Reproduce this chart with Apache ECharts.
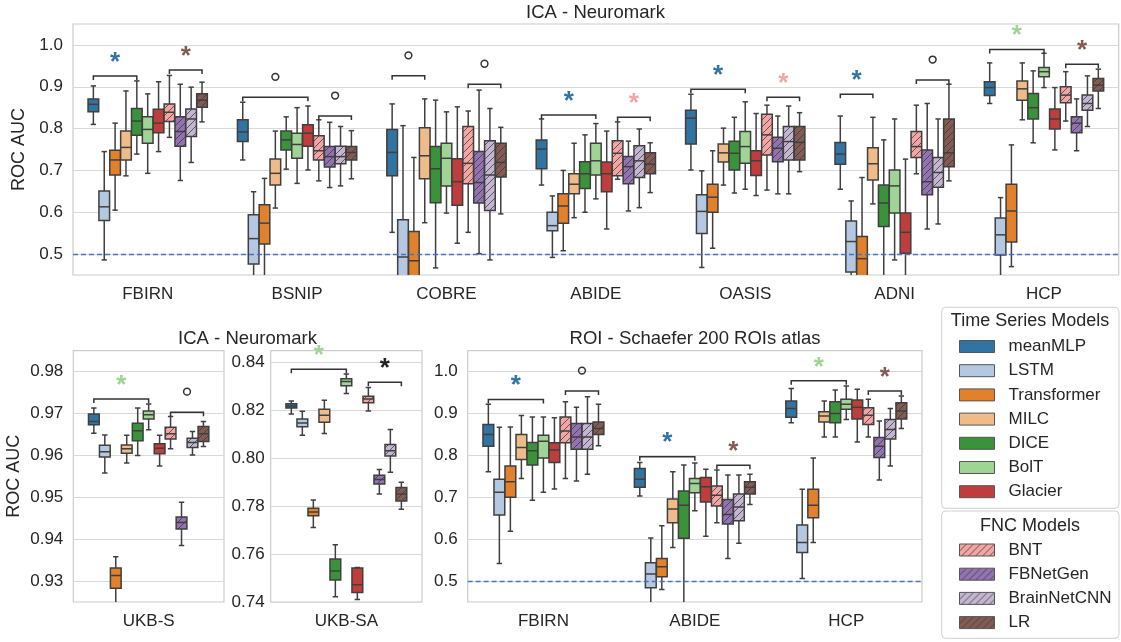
<!DOCTYPE html>
<html>
<head>
<meta charset="utf-8">
<title>ROC AUC - ICA / ROI</title>
<script src="https://cdn.jsdelivr.net/npm/echarts@6/dist/echarts.min.js"></script>
<style>
html, body { margin: 0; padding: 0; background: #fff; }
#container { width: 1121px; height: 642px; }
</style>
</head>
<body>
<div id="container"></div>
<script>
//数据集与模型
var icaSets = ['FBIRN', 'BSNIP', 'COBRE', 'ABIDE', 'OASIS', 'ADNI', 'HCP'];
var ukbSSets = ['UKB-S'];
var ukbSASets = ['UKB-SA'];
var roiSets = ['FBIRN', 'ABIDE', 'HCP'];
var tsModels = ['meanMLP', 'LSTM', 'Transformer', 'MILC', 'DICE', 'BolT', 'Glacier'];
var fncModels = ['BNT', 'FBNetGen', 'BrainNetCNN', 'LR'];
var modelColors = ['#3274a1', '#b5c8e1', '#e1812c', '#eebb89', '#3a923a', '#9fd495', '#c03d3e',
                   '#f2a5a3', '#9372b2', '#c4b5d0', '#845b53'];

//每一行: [下须, Q1, 中位数, Q3, 上须]，顺序同 tsModels + fncModels
var icaFBIRN = [
    [0.810, 0.840, 0.858, 0.871, 0.902], [0.486, 0.580, 0.613, 0.651, 0.745],
    [0.605, 0.689, 0.725, 0.748, 0.813], [0.687, 0.725, 0.755, 0.794, 0.890],
    [0.739, 0.784, 0.818, 0.848, 0.914], [0.693, 0.765, 0.798, 0.828, 0.883],
    [0.745, 0.790, 0.813, 0.846, 0.912], [0.779, 0.817, 0.839, 0.859, 0.927],
    [0.676, 0.758, 0.793, 0.828, 0.906], [0.719, 0.781, 0.823, 0.847, 0.899],
    [0.816, 0.851, 0.868, 0.883, 0.911]
];
var icaBSNIP = [
    [0.725, 0.769, 0.792, 0.821, 0.863], [0.400, 0.476, 0.537, 0.594, 0.649],
    [0.420, 0.524, 0.574, 0.618, 0.681], [0.610, 0.665, 0.693, 0.727, 0.794],
    [0.703, 0.749, 0.773, 0.794, 0.828], [0.669, 0.729, 0.762, 0.789, 0.850],
    [0.701, 0.758, 0.789, 0.809, 0.854], [0.675, 0.725, 0.747, 0.783, 0.821],
    [0.659, 0.708, 0.733, 0.757, 0.815], [0.663, 0.716, 0.733, 0.758, 0.805],
    [0.680, 0.725, 0.743, 0.757, 0.795]
];
var icaCOBRE = [
    [0.552, 0.687, 0.743, 0.798, 0.859], [0.330, 0.420, 0.493, 0.582, 0.807],
    [0.350, 0.430, 0.484, 0.554, 0.731], [0.575, 0.680, 0.735, 0.802, 0.871],
    [0.467, 0.623, 0.704, 0.757, 0.868], [0.598, 0.663, 0.729, 0.765, 0.840],
    [0.526, 0.617, 0.673, 0.728, 0.852], [0.552, 0.668, 0.717, 0.805, 0.842],
    [0.501, 0.622, 0.671, 0.745, 0.892], [0.486, 0.604, 0.689, 0.771, 0.848],
    [0.596, 0.684, 0.719, 0.765, 0.803]
];
var icaABIDE = [
    [0.665, 0.704, 0.751, 0.773, 0.823], [0.492, 0.556, 0.568, 0.600, 0.639],
    [0.508, 0.574, 0.615, 0.644, 0.700], [0.587, 0.644, 0.667, 0.692, 0.765],
    [0.600, 0.657, 0.692, 0.721, 0.785], [0.632, 0.689, 0.723, 0.765, 0.812],
    [0.560, 0.649, 0.692, 0.720, 0.794], [0.679, 0.687, 0.741, 0.771, 0.816],
    [0.603, 0.668, 0.709, 0.733, 0.770], [0.611, 0.683, 0.723, 0.759, 0.799],
    [0.647, 0.692, 0.715, 0.742, 0.766]
];
var icaOASIS = [
    [0.701, 0.763, 0.825, 0.844, 0.882], [0.468, 0.549, 0.602, 0.642, 0.699],
    [0.514, 0.600, 0.636, 0.667, 0.747], [0.665, 0.720, 0.742, 0.763, 0.801],
    [0.646, 0.701, 0.741, 0.770, 0.827], [0.655, 0.717, 0.757, 0.793, 0.864],
    [0.640, 0.688, 0.723, 0.747, 0.836], [0.653, 0.737, 0.785, 0.834, 0.856],
    [0.644, 0.721, 0.753, 0.779, 0.830], [0.644, 0.725, 0.769, 0.805, 0.854],
    [0.697, 0.725, 0.767, 0.805, 0.838]
];
var icaADNI = [
    [0.655, 0.715, 0.739, 0.767, 0.830], [0.400, 0.457, 0.530, 0.579, 0.627],
    [0.380, 0.440, 0.489, 0.542, 0.683], [0.620, 0.677, 0.716, 0.754, 0.827],
    [0.420, 0.566, 0.622, 0.665, 0.773], [0.486, 0.598, 0.663, 0.701, 0.823],
    [0.430, 0.502, 0.552, 0.598, 0.727], [0.692, 0.731, 0.757, 0.793, 0.856],
    [0.560, 0.642, 0.673, 0.749, 0.860], [0.572, 0.660, 0.695, 0.731, 0.823],
    [0.675, 0.709, 0.742, 0.823, 0.906]
];
var icaHCP = [
    [0.860, 0.879, 0.898, 0.912, 0.957], [0.440, 0.498, 0.546, 0.586, 0.635],
    [0.470, 0.529, 0.603, 0.667, 0.761], [0.821, 0.868, 0.895, 0.914, 0.957],
    [0.766, 0.823, 0.850, 0.884, 0.938], [0.898, 0.924, 0.936, 0.946, 0.980],
    [0.749, 0.799, 0.823, 0.847, 0.898], [0.818, 0.862, 0.880, 0.900, 0.936],
    [0.747, 0.790, 0.813, 0.828, 0.871], [0.805, 0.844, 0.860, 0.880, 0.926],
    [0.848, 0.890, 0.904, 0.920, 0.942]
];
var ukbS = [
    [0.9653, 0.9673, 0.9681, 0.9699, 0.9713], [0.9558, 0.9596, 0.9609, 0.9624, 0.9649],
    [0.9235, 0.9283, 0.9313, 0.9331, 0.9358], [0.9582, 0.9605, 0.9616, 0.9625, 0.9648],
    [0.9600, 0.9635, 0.9659, 0.9677, 0.9713], [0.9661, 0.9687, 0.9697, 0.9706, 0.9723],
    [0.9575, 0.9604, 0.9617, 0.9628, 0.9648], [0.9616, 0.9639, 0.9652, 0.9667, 0.9693],
    [0.9385, 0.9424, 0.9440, 0.9453, 0.9488], [0.9601, 0.9619, 0.9631, 0.9641, 0.9657],
    [0.9621, 0.9633, 0.9652, 0.9669, 0.9681]
];
var ukbSA = [
    [0.8186, 0.8211, 0.8219, 0.8228, 0.8240], [0.8097, 0.8132, 0.8148, 0.8165, 0.8197],
    [0.7711, 0.7760, 0.7776, 0.7792, 0.7826], [0.8104, 0.8151, 0.8180, 0.8205, 0.8243],
    [0.7422, 0.7492, 0.7530, 0.7580, 0.7639], [0.8271, 0.8304, 0.8321, 0.8333, 0.8353],
    [0.7410, 0.7440, 0.7472, 0.7542, 0.7544], [0.8198, 0.8233, 0.8248, 0.8260, 0.8296],
    [0.7851, 0.7893, 0.7912, 0.7930, 0.7954], [0.7942, 0.8010, 0.8032, 0.8058, 0.8121],
    [0.7788, 0.7822, 0.7851, 0.7878, 0.7900]
];
var roiFBIRN = [
    [0.761, 0.822, 0.850, 0.874, 0.922], [0.542, 0.658, 0.712, 0.743, 0.867],
    [0.619, 0.700, 0.737, 0.775, 0.868], [0.745, 0.790, 0.819, 0.850, 0.895],
    [0.693, 0.777, 0.811, 0.831, 0.892], [0.712, 0.794, 0.834, 0.848, 0.892],
    [0.720, 0.783, 0.813, 0.830, 0.890], [0.745, 0.830, 0.858, 0.892, 0.928],
    [0.739, 0.815, 0.844, 0.876, 0.915], [0.755, 0.815, 0.844, 0.876, 0.940],
    [0.823, 0.850, 0.864, 0.880, 0.922]
];
var roiABIDE = [
    [0.703, 0.724, 0.743, 0.769, 0.783], [0.440, 0.484, 0.517, 0.544, 0.603],
    [0.480, 0.510, 0.534, 0.554, 0.632], [0.580, 0.639, 0.672, 0.696, 0.761],
    [0.440, 0.602, 0.681, 0.715, 0.777], [0.668, 0.711, 0.733, 0.745, 0.782],
    [0.607, 0.689, 0.725, 0.747, 0.767], [0.639, 0.679, 0.705, 0.727, 0.765],
    [0.554, 0.636, 0.659, 0.695, 0.753], [0.590, 0.644, 0.677, 0.708, 0.753],
    [0.683, 0.708, 0.724, 0.737, 0.755]
];
var roiHCP = [
    [0.878, 0.891, 0.912, 0.930, 0.960], [0.506, 0.568, 0.592, 0.634, 0.719],
    [0.592, 0.651, 0.681, 0.719, 0.794], [0.844, 0.880, 0.894, 0.904, 0.930],
    [0.844, 0.878, 0.900, 0.928, 0.956], [0.886, 0.910, 0.922, 0.934, 0.966],
    [0.832, 0.887, 0.915, 0.932, 0.958], [0.844, 0.874, 0.896, 0.914, 0.934],
    [0.741, 0.795, 0.822, 0.843, 0.882], [0.775, 0.839, 0.862, 0.886, 0.912],
    [0.864, 0.887, 0.906, 0.926, 0.942]
];

//显著性括号: [数据集序号, 起始模型, 结束模型, 高度, 标记, 星号颜色(模型序号, -1为黑色)]
var icaBrackets = [
    [0, 0, 4, 0.9255, '*', 0], [0, 7, 10, 0.940, '*', 10],
    [1, 0, 6, 0.8747, 'o'], [1, 7, 10, 0.830, 'o'],
    [2, 0, 3, 0.926, 'o'], [2, 7, 10, 0.906, 'o'],
    [3, 0, 5, 0.8325, '*', 0], [3, 7, 10, 0.827, '*', 7],
    [4, 0, 5, 0.8938, '*', 0], [4, 7, 10, 0.8747, '*', 7],
    [5, 0, 3, 0.882, '*', 0], [5, 7, 10, 0.916, 'o'],
    [6, 0, 5, 0.989, '*', 5], [6, 7, 10, 0.9535, '*', 10]
];
var ukbSBrackets = [[0, 0, 5, 0.97344, '*', 5], [0, 7, 10, 0.97033, 'o']];
var ukbSABrackets = [[0, 0, 5, 0.8372, '*', 5], [0, 7, 10, 0.8318, '*', -1]];
var roiBrackets = [
    [0, 0, 5, 0.9337, '*', 0], [0, 7, 10, 0.9535, 'o'],
    [1, 0, 5, 0.7967, '*', 0], [1, 7, 10, 0.7768, '*', 10],
    [2, 0, 5, 0.978, '*', 5], [2, 7, 10, 0.954, '*', 10]
];

var aucTicks = [0.5, 0.6, 0.7, 0.8, 0.9, 1.0];
var ukbSTicks = [0.93, 0.94, 0.95, 0.96, 0.97, 0.98];
var ukbSATicks = [0.74, 0.76, 0.78, 0.80, 0.82, 0.84];

var models = tsModels.concat(fncModels);
var fontFamily = '"Liberation Sans", Arial, sans-serif';
var textColor = '#262626';
var lineColor = '#3f3f3f';

//斜线填充(FNC 模型)
function makeHatch(color) {
    var s = 7;
    var c = document.createElement('canvas');
    c.width = s;
    c.height = s;
    var ctx = c.getContext('2d');
    ctx.fillStyle = color;
    ctx.fillRect(0, 0, s, s);
    ctx.strokeStyle = 'rgba(55,55,55,0.75)';
    ctx.lineWidth = 1;
    ctx.beginPath();
    ctx.moveTo(-1, 1); ctx.lineTo(1, -1);
    ctx.moveTo(0, s); ctx.lineTo(s, 0);
    ctx.moveTo(s - 1, s + 1); ctx.lineTo(s + 1, s - 1);
    ctx.stroke();
    return { image: c, repeat: 'repeat' };
}
var boxFills = models.map(function (name, m) {
    return m >= tsModels.length ? makeHatch(modelColors[m]) : modelColors[m];
});

//画一个箱子
function boxItem(m) {
    return function (params, api) {
        var cat = api.value(0);
        var band = api.size([1, 0])[0];
        var slot = band * 0.8 / models.length;
        var x = api.coord([cat, 0])[0] + (m - (models.length - 1) / 2) * slot;
        var w = slot * 0.98;
        var yLow = api.coord([cat, api.value(1)])[1];
        var yQ1 = api.coord([cat, api.value(2)])[1];
        var yMed = api.coord([cat, api.value(3)])[1];
        var yQ3 = api.coord([cat, api.value(4)])[1];
        var yHigh = api.coord([cat, api.value(5)])[1];
        var line = { stroke: lineColor, lineWidth: 1.5 };
        return {
            type: 'group',
            children: [
                { type: 'line', shape: { x1: x, y1: yQ1, x2: x, y2: yLow }, style: line },
                { type: 'line', shape: { x1: x, y1: yQ3, x2: x, y2: yHigh }, style: line },
                { type: 'line', shape: { x1: x - w / 4, y1: yLow, x2: x + w / 4, y2: yLow }, style: line },
                { type: 'line', shape: { x1: x - w / 4, y1: yHigh, x2: x + w / 4, y2: yHigh }, style: line },
                { type: 'rect', shape: { x: x - w / 2, y: yQ3, width: w, height: yQ1 - yQ3 },
                  style: { fill: boxFills[m], stroke: lineColor, lineWidth: 1.5 } },
                { type: 'line', shape: { x1: x - w / 2, y1: yMed, x2: x + w / 2, y2: yMed }, style: line }
            ]
        };
    };
}

//画显著性括号和星号
function bracketItem(list) {
    return function (params, api) {
        var b = list[params.dataIndex];
        var band = api.size([1, 0])[0];
        var slot = band * 0.8 / models.length;
        var c = api.coord([b[0], b[3]]);
        var mid = (models.length - 1) / 2;
        var x1 = c[0] + (b[1] - mid) * slot;
        var x2 = c[0] + (b[2] - mid) * slot;
        var y = c[1];
        var mx = (x1 + x2) / 2;
        var mark;
        if (b[4] === 'o') {
            mark = { type: 'circle', shape: { cx: mx, cy: y - 20.5, r: 3.4 },
                     style: { fill: 'none', stroke: '#333', lineWidth: 1.5 } };
        } else {
            mark = { type: 'text', x: mx, y: y - 13.5,
                     style: { text: '*', fill: b[5] < 0 ? '#222' : modelColors[b[5]],
                              font: 'bold 26px ' + fontFamily, align: 'center', verticalAlign: 'middle' } };
        }
        return {
            type: 'group',
            children: [
                { type: 'polyline', shape: { points: [[x1, y + 4], [x1, y], [x2, y], [x2, y + 4]] },
                  style: { fill: 'none', stroke: '#333', lineWidth: 1.5 } },
                mark
            ]
        };
    };
}

var panels = [
    { cats: icaSets, sets: [icaFBIRN, icaBSNIP, icaCOBRE, icaABIDE, icaOASIS, icaADNI, icaHCP],
      brackets: icaBrackets, ticks: aucTicks, min: 0.45, max: 1.05, digits: 1, chance: true,
      grid: { left: 73, top: 24, width: 1045.7, height: 251 }, yName: 'ROC AUC', nameGap: 40, labelMargin: 10 },
    { cats: ukbSSets, sets: [ukbS], brackets: ukbSBrackets, ticks: ukbSTicks, min: 0.925, max: 0.985, digits: 2,
      grid: { left: 73.3, top: 350.7, width: 150.7, height: 251.3 }, yName: 'ROC AUC', nameGap: 50, labelMargin: 10 },
    { cats: ukbSASets, sets: [ukbSA], brackets: ukbSABrackets, ticks: ukbSATicks, min: 0.74, max: 0.845, digits: 2,
      grid: { left: 270.7, top: 350.7, width: 151.3, height: 251.3 }, yName: '', nameGap: 0, labelMargin: 6 },
    { cats: roiSets, sets: [roiFBIRN, roiABIDE, roiHCP], brackets: roiBrackets, ticks: aucTicks,
      min: 0.45, max: 1.05, digits: 1, chance: true,
      grid: { left: 467.7, top: 350.7, width: 454.3, height: 251.3 }, yName: '', nameGap: 0, labelMargin: 10 }
];

var grids = [], xAxes = [], yAxes = [], series = [];
panels.forEach(function (p, g) {
    grids.push(Object.assign({ show: true, borderColor: '#cccccc', borderWidth: 1.2,
                               backgroundColor: '#fff', outerBoundsMode: 'none' }, p.grid));
    xAxes.push({
        type: 'category', gridIndex: g, data: p.cats,
        axisLine: { show: false }, axisTick: { show: false }, splitLine: { show: false },
        axisLabel: { margin: 11, fontSize: 17, color: textColor, fontFamily: fontFamily }
    });
    yAxes.push({
        type: 'value', gridIndex: g, min: p.min, max: p.max,
        name: p.yName, nameLocation: 'middle', nameGap: p.nameGap,
        nameTextStyle: { fontSize: 18, color: textColor, fontFamily: fontFamily },
        axisLine: { show: false },
        axisTick: { show: false, customValues: p.ticks },
        axisLabel: {
            customValues: p.ticks, margin: p.labelMargin, fontSize: 17, color: textColor, fontFamily: fontFamily,
            formatter: (function (d) { return function (v) { return Number(v).toFixed(d); }; })(p.digits)
        },
        splitLine: { show: true, lineStyle: { color: '#d9d9d9', width: 1 } }
    });
    models.forEach(function (name, m) {
        var s = {
            type: 'custom', name: name, xAxisIndex: g, yAxisIndex: g, clip: true,
            itemStyle: { color: modelColors[m] },
            encode: { x: 0, y: [1, 2, 3, 4, 5] },
            renderItem: boxItem(m),
            data: p.sets.map(function (rows, ci) { return [ci].concat(rows[m]); })
        };
        //0.5 的随机水平线
        if (m === 0 && p.chance) {
            s.markLine = {
                silent: true, symbol: ['none', 'none'], label: { show: false },
                lineStyle: { type: [5, 3], color: '#4a72c4', width: 1.4 },
                data: [{ yAxis: 0.5 }]
            };
        }
        series.push(s);
    });
    series.push({
        type: 'custom', name: 'significance', xAxisIndex: g, yAxisIndex: g, silent: true, z: 5,
        renderItem: bracketItem(p.brackets),
        data: p.brackets.map(function (b) { return [b[0], b[3]]; })
    });
});

var titleStyle = { fontSize: 18.5, fontWeight: 'normal', color: textColor, fontFamily: fontFamily };
var legendText = { fontSize: 17, color: textColor, fontFamily: fontFamily, padding: [0, 0, 0, 9] };

var option = {
    animation: false,
    backgroundColor: '#fff',
    title: [
        { text: 'ICA - Neuromark', left: 595.5, top: 3.5, textAlign: 'center', padding: 0, textStyle: titleStyle },
        { text: 'ICA - Neuromark', left: 247.5, top: 329.7, textAlign: 'center', padding: 0, textStyle: titleStyle },
        { text: 'ROI - Schaefer 200 ROIs atlas', left: 695, top: 329.7, textAlign: 'center', padding: 0, textStyle: titleStyle }
    ],
    grid: grids,
    xAxis: xAxes,
    yAxis: yAxes,
    legend: [
        { orient: 'vertical', left: 959, top: 338, padding: 0, itemWidth: 35, itemHeight: 12, itemGap: 7.2,
          icon: 'rect', itemStyle: { borderColor: '#555', borderWidth: 1 }, textStyle: legendText,
          data: tsModels },
        { orient: 'vertical', left: 959, top: 541.5, padding: 0, itemWidth: 35, itemHeight: 12, itemGap: 7.2,
          icon: 'rect', itemStyle: { borderColor: '#555', borderWidth: 1 }, textStyle: legendText,
          data: fncModels.map(function (n, i) {
              return { name: n, itemStyle: { color: boxFills[tsModels.length + i], borderColor: '#555', borderWidth: 1 } };
          }) }
    ],
    graphic: [
        { type: 'rect', z: 0, shape: { x: 941.7, y: 307.3, width: 177.3, height: 201, r: 4 },
          style: { fill: '#fff', stroke: '#d0d0d0', lineWidth: 1 } },
        { type: 'text', z: 1, x: 1030, y: 320.7,
          style: { text: 'Time Series Models', font: '18px ' + fontFamily, fill: textColor, align: 'center', verticalAlign: 'middle' } },
        { type: 'rect', z: 0, shape: { x: 941.7, y: 511, width: 177.3, height: 127.3, r: 4 },
          style: { fill: '#fff', stroke: '#d0d0d0', lineWidth: 1 } },
        { type: 'text', z: 1, x: 1030, y: 525.7,
          style: { text: 'FNC Models', font: '18px ' + fontFamily, fill: textColor, align: 'center', verticalAlign: 'middle' } }
    ],
    series: series
};

var myChart = echarts.init(document.getElementById('container'), null, { renderer: 'canvas' });
myChart.setOption(option);
</script>
</body>
</html>
